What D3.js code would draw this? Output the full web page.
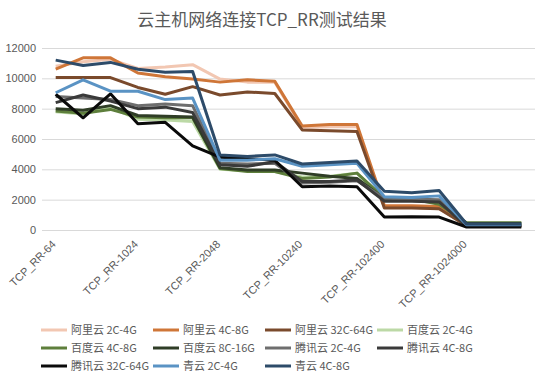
<!DOCTYPE html>
<html>
<head>
<meta charset="utf-8">
<script src="https://cdn.jsdelivr.net/npm/d3@7"></script>
<style>
  body { margin: 0; background: #fff; }
  text { font-family: "Noto Sans CJK SC", "Noto Sans", sans-serif; fill: #595959; }
</style>
</head>
<body>
<div id="chart"></div>
<script>
var svgWidth = 543;
var svgHeight = 378;

// 18 test points, the axis shows every third label
var categories = [
    'TCP_RR-64', 'TCP_RR-64', 'TCP_RR-64',
    'TCP_RR-1024', 'TCP_RR-1024', 'TCP_RR-1024',
    'TCP_RR-2048', 'TCP_RR-2048', 'TCP_RR-2048',
    'TCP_RR-10240', 'TCP_RR-10240', 'TCP_RR-10240',
    'TCP_RR-102400', 'TCP_RR-102400', 'TCP_RR-102400',
    'TCP_RR-1024000', 'TCP_RR-1024000', 'TCP_RR-1024000'
];
var yTicks = [0, 2000, 4000, 6000, 8000, 10000, 12000];

var seriesNames = [
    '阿里云 2C-4G', '阿里云 4C-8G', '阿里云 32C-64G', '百度云 2C-4G',
    '百度云 4C-8G', '百度云 8C-16G', '腾讯云 2C-4G', '腾讯云 4C-8G',
    '腾讯云 32C-64G', '青云 2C-4G', '青云 4C-8G'
];
var seriesColors = [
    '#f2c7b2', '#cf7638', '#7a4a2c', '#bcd9a6',
    '#5e7f3c', '#2f3d26', '#6e6e6e', '#3a3a3a',
    '#0a0a0a', '#5a93c4', '#2d4b69'
];

var aliyun2c = [10800, 11100, 11250, 10650, 10750, 10900, 9950, 9750, 9750, 6750, 6800, 6800, 1500, 1500, 1400, 350, 350, 350];
var aliyun4c = [10600, 11350, 11350, 10350, 10100, 9950, 9750, 9900, 9800, 6850, 6950, 6950, 1600, 1600, 1550, 300, 300, 300];
var aliyun32c = [10050, 10050, 10050, 9400, 8950, 9450, 8900, 9100, 9000, 6600, 6550, 6500, 1450, 1450, 1400, 280, 280, 280];
var baidu2c = [7800, 7650, 8100, 7300, 7250, 7150, 4000, 3900, 3850, 3500, 3550, 3750, 2000, 2050, 1800, 450, 450, 450];
var baidu4c = [7850, 7700, 7950, 7450, 7400, 7400, 4050, 3850, 3850, 3400, 3500, 3750, 2100, 2050, 1700, 480, 480, 480];
var baidu8c = [8000, 7900, 8200, 7550, 7500, 7450, 4100, 3950, 3950, 3750, 3550, 3400, 2050, 1950, 1900, 430, 430, 430];
var tencent2c = [8800, 8700, 8600, 8200, 8300, 8200, 4400, 4350, 4400, 3100, 3150, 3250, 2100, 2050, 2000, 300, 300, 300];
var tencent4c = [8400, 8900, 8500, 8000, 8100, 7750, 4300, 4200, 4500, 3200, 3200, 3300, 1900, 1900, 1850, 250, 250, 250];
var tencent32c = [8950, 7400, 8980, 7000, 7100, 5550, 4800, 4700, 4600, 2850, 2900, 2850, 850, 880, 850, 200, 200, 200];
var qingcloud2c = [9050, 9900, 9150, 9150, 8600, 8700, 4600, 4600, 4700, 4200, 4300, 4400, 2200, 2150, 2250, 350, 350, 350];
var qingcloud4c = [11200, 10850, 11050, 10600, 10400, 10450, 4950, 4850, 4950, 4350, 4450, 4550, 2550, 2450, 2600, 400, 400, 400];

var seriesValues = [aliyun2c, aliyun4c, aliyun32c, baidu2c, baidu4c, baidu8c,
    tencent2c, tencent4c, tencent32c, qingcloud2c, qingcloud4c];

var plot = { left: 42, right: 535, top: 48, bottom: 230 };

var svg = d3.select('#chart').append('svg')
    .attr('width', svgWidth)
    .attr('height', svgHeight);

// scales
var xScale = d3.scaleBand()
    .domain(d3.range(categories.length))
    .range([plot.left, plot.right]);
var xMid = i => xScale(i) + xScale.bandwidth() / 2;

var yScale = d3.scaleLinear()
    .domain([0, 12000])
    .range([plot.bottom, plot.top]);

// title
svg.append('text')
    .attr('x', 262)
    .attr('y', 26)
    .attr('text-anchor', 'middle')
    .attr('font-size', '17px')
    .text('云主机网络连接TCP_RR测试结果');

// gridlines + y labels
var leftAxis = d3.axisLeft(yScale)
    .tickValues(yTicks)
    .tickFormat(d3.format('d'))
    .tickSize(-(plot.right - plot.left))
    .tickPadding(6);

var yAxis = svg.append('g')
    .attr('transform', `translate(${plot.left}, 0)`)
    .call(leftAxis);
yAxis.select('.domain').remove();
yAxis.selectAll('line').attr('stroke', '#d9d9d9');
yAxis.selectAll('text')
    .attr('font-size', '11px')
    .attr('fill', '#595959')
    .style('font-family', '"Liberation Sans", sans-serif');

// x labels, every third
var bottomAxis = d3.axisBottom(xScale)
    .tickValues(d3.range(0, categories.length, 3))
    .tickFormat(i => categories[i])
    .tickSize(0);

var xAxis = svg.append('g')
    .attr('transform', `translate(0, ${plot.bottom})`)
    .call(bottomAxis);
xAxis.select('.domain').remove();
xAxis.selectAll('text')
    .attr('font-size', '11px')
    .attr('fill', '#595959')
    .attr('text-anchor', 'end')
    .attr('dy', 0)
    .attr('y', 0)
    .attr('transform', 'translate(1, 15) rotate(-45)')
    .style('font-family', '"Liberation Sans", sans-serif');

// lines
var line = d3.line()
    .x((d, i) => xMid(i))
    .y(d => yScale(d));

svg.append('g').selectAll('path')
    .data(seriesValues)
    .enter()
    .append('path')
    .attr('d', d => line(d))
    .attr('fill', 'none')
    .attr('stroke', (d, i) => seriesColors[i])
    .attr('stroke-width', 3)
    .attr('stroke-linejoin', 'round');

// legend
var legendX = [41, 153, 265, 377];
var legendY = [330, 348, 366];

var legend = svg.append('g').selectAll('g')
    .data(seriesNames)
    .enter()
    .append('g')
    .attr('transform', (d, i) => `translate(${legendX[i % 4]}, ${legendY[Math.floor(i / 4)]})`);

legend.append('line')
    .attr('x1', 0)
    .attr('x2', 26)
    .attr('y1', 0)
    .attr('y2', 0)
    .attr('stroke', (d, i) => seriesColors[i])
    .attr('stroke-width', 3);

legend.append('text')
    .attr('x', 30)
    .attr('y', 4)
    .attr('font-size', '11px')
    .text(d => d);
</script>
</body>
</html>
